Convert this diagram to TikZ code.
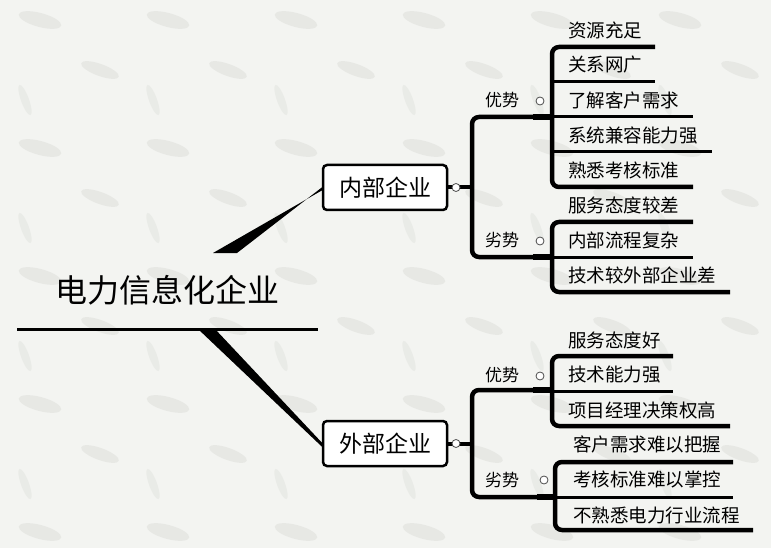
\documentclass[tikz,border=0pt]{standalone}
\usepackage{fontspec}
\setmainfont{Noto Sans CJK SC}
\definecolor{bg}{HTML}{F3F4F1}
\definecolor{blob}{HTML}{D9DBD6}
\tikzset{
  brk/.style={line width=4.5pt, rounded corners=7pt},
  leafline/.style={line width=3pt},
  stub/.style={line width=6.5pt},
  leaf/.style={anchor=west, inner sep=0pt, font=\fontsize{18.5}{20}\selectfont},
  side/.style={inner sep=0pt, font=\fontsize{17}{20}\selectfont},
  knob/.style={circle, draw=black!70, fill=white, line width=0.8pt, minimum size=8pt, inner sep=0pt},
  mid/.style={draw=black, line width=2.5pt, rounded corners=4pt, fill=white, minimum width=124pt, minimum height=45pt, inner sep=0pt, font=\fontsize{23}{25}\selectfont},
}
\begin{document}
\begin{tikzpicture}[x=1pt,y=-1pt]
\fill[bg] (0,0) rectangle (771,548);
\useasboundingbox (0,0) rectangle (771,548);
% faint background texture
\foreach \i in {0,...,6}{
  \foreach \j in {0,...,4}{
    \fill[blob, opacity=0.45, rotate around={-15:(\i*128+40,\j*128+20)}] (\i*128+40,\j*128+20) ellipse (22pt and 7pt);
    \fill[blob, opacity=0.45, rotate around={-20:(\i*128+100,\j*128+70)}] (\i*128+100,\j*128+70) ellipse (20pt and 6pt);
    \fill[blob, opacity=0.35, rotate around={-70:(\i*128+25,\j*128+100)}] (\i*128+25,\j*128+100) ellipse (16pt and 4pt);
  }
}
% root
\node[inner sep=0pt, font=\fontsize{32}{34}\selectfont] (root) at (167,290) {电力信息化企业};
\coordinate (ulL) at (17,329);
\coordinate (ulR) at (318,329);
\draw[line width=3pt] (ulL) -- (ulR);
% middle boxes
\node[mid] (inner) at (385,187.5) {内部企业};
\node[mid] (outer) at (385,443.5) {外部企业};
% wedges
\fill (213,253) -- (237,253) -- (inner.west) -- ([yshift=-3pt]inner.west) -- cycle;
\fill (198,329) -- (215,329) -- ([yshift=1pt]outer.west) -- ([yshift=-3pt]outer.west) -- cycle;

% ---------- inner ----------
\coordinate (iA) at (472,117);
\coordinate (iB) at (472,257);
\draw[brk] (552,117) -- (iA) -- (iB) -- (552,257);
\draw[line width=4pt] (inner.east) -- (472,187.5);
\node[knob] (k1) at (456,187.5) {};
\draw[stub] (533,117) -- (552,117);
\draw[stub] (533,257) -- (552,257);
\node[side] (iadv) at (502,100) {优势};
\node[side] (idis) at (502,240) {劣势};
\node[knob] (k2) at (540,101) {};
\node[knob] (k3) at (540,241) {};
% inner advantages
\draw[brk] (655,47) -- (552,47) -- (552,187) -- (693,187);
\draw[leafline] (552,82) -- (655,82);
\draw[leafline] (552,117) -- (693,117);
\draw[leafline] (552,152) -- (712,152);
\node[leaf] (a1) at (568,30) {资源充足};
\node[leaf] (a2) at (568,65) {关系网广};
\node[leaf] (a3) at (568,100) {了解客户需求};
\node[leaf] (a4) at (568,135) {系统兼容能力强};
\node[leaf] (a5) at (568,170) {熟悉考核标准};
% inner disadvantages
\draw[brk] (693,222) -- (552,222) -- (552,292) -- (730,292);
\draw[leafline] (552,257) -- (693,257);
\node[leaf] (b1) at (568,205) {服务态度较差};
\node[leaf] (b2) at (568,240) {内部流程复杂};
\node[leaf] (b3) at (568,275) {技术较外部企业差};

% ---------- outer ----------
\draw[brk] (552,390) -- (472,390) -- (472,497) -- (555,497);
\draw[line width=4pt] (outer.east) -- (472,443.5);
\node[knob] (k4) at (456,443.5) {};
\draw[stub] (533,390) -- (552,390);
\draw[stub] (537,497) -- (555,497);
\node[side] (oadv) at (502,375) {优势};
\node[side] (odis) at (502,480) {劣势};
\node[knob] (k5) at (540,376) {};
\node[knob] (k6) at (544,480) {};
% outer advantages
\draw[brk] (673,356) -- (552,356) -- (552,426) -- (730,426);
\draw[leafline] (552,391) -- (673,391);
\node[leaf] (c1) at (568,340) {服务态度好};
\node[leaf] (c2) at (568,375) {技术能力强};
\node[leaf] (c3) at (568,410) {项目经理决策权高};
% outer disadvantages
\draw[brk] (733,462) -- (555,462) -- (555,530) -- (753,530);
\draw[leafline] (555,497) -- (733,497);
\node[leaf] (d1) at (573,444) {客户需求难以把握};
\node[leaf] (d2) at (573,479) {考核标准难以掌控};
\node[leaf] (d3) at (573,515) {不熟悉电力行业流程};
\end{tikzpicture}
\end{document}
